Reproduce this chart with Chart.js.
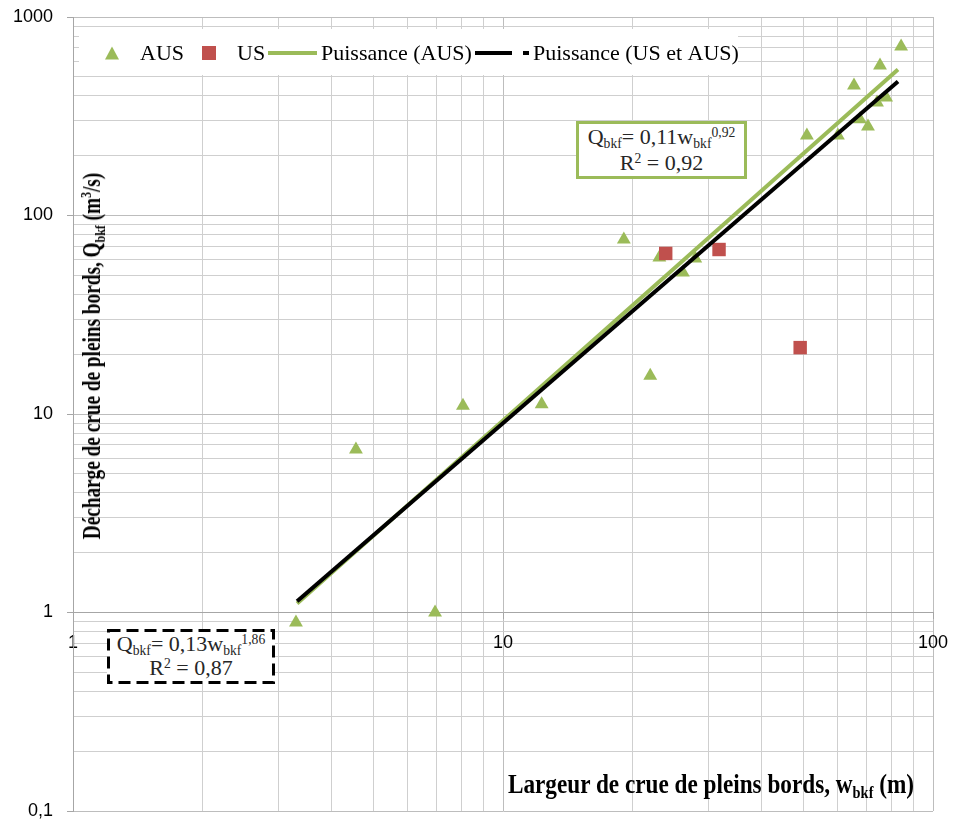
<!DOCTYPE html>
<html>
<head>
<meta charset="utf-8">
<script src="https://cdn.jsdelivr.net/npm/chart.js@4.4.1/dist/chart.umd.min.js"></script>
<style>
html,body{margin:0;padding:0;background:#fff;}
#wrap{position:relative;width:954px;height:824px;overflow:hidden;}
#c{position:absolute;left:0;top:0;}
.eq{position:absolute;background:#fff;font-family:"Liberation Serif",serif;font-size:22px;color:#262626;text-align:center;box-sizing:border-box;white-space:nowrap;}
.eq sub,.eq sup,.ttl sub,.ttl sup{font-size:62%;line-height:0;}
.eq sub,.ttl sub{vertical-align:-0.3em;}
.eq sup,.ttl sup{vertical-align:0.55em;}
#eq1{left:576px;top:121px;width:171px;height:58px;border:3px solid #9BBB59;line-height:26px;}
#eq2{left:107px;top:629px;width:168px;height:55px;line-height:24px;}
#eq2 svg{position:absolute;left:0;top:0;}
.ttl{position:absolute;font-family:"Liberation Serif",serif;font-weight:bold;color:#000;white-space:nowrap;}
#ytitle{left:92px;top:356px;font-size:25px;transform:translate(-50%,-50%) rotate(-90deg) scaleX(0.77);}
#xtitle{left:711px;top:784px;font-size:27px;transform:translate(-50%,-50%) scaleX(0.86);}
</style>
</head>
<body>
<div id="wrap">
  <canvas id="c" width="954" height="824"></canvas>
  <div class="ttl" id="ytitle">Décharge de crue de pleins bords, Q<sub>bkf</sub> (m<sup>3</sup>/s)</div>
  <div class="ttl" id="xtitle">Largeur de crue de pleins bords, w<sub>bkf</sub> (m)</div>
  <div class="eq" id="eq1">Q<sub>bkf</sub>= 0,11w<sub>bkf</sub><sup>0,92</sup><br>R<sup>2</sup> = 0,92</div>
  <div class="eq" id="eq2"><svg width="168" height="55"><rect x="1.5" y="1.5" width="165" height="52" fill="none" stroke="#000" stroke-width="3" stroke-dasharray="12 6"/></svg><div style="position:relative;padding-top:3px;">Q<sub>bkf</sub>= 0,13w<sub>bkf</sub><sup>1,86</sup><br>R<sup>2</sup> = 0,87</div></div>
</div>
<script>
// ---- data ----
const seriesLabels = ['AUS', 'US', 'Puissance (AUS)', 'Puissance (US et AUS)'];
const ausWidth     = [3.30, 4.55, 6.95, 8.07, 12.3, 19.1, 22.0, 23.1, 26.2, 28.0, 50.9, 60.1, 65.5, 67.6, 70.6, 74.1, 75.3, 77.8, 84.3];
const ausDischarge = [0.89, 6.63, 1.00, 11.0, 11.2, 75.7, 15.6, 61.4, 51.6, 60.7, 253, 253, 452, 305, 281, 371, 570, 393, 710];
const usWidth      = [23.9, 31.8, 49.1];
const usDischarge  = [64.4, 67.4, 21.6];
const fitAusWidth     = [3.32, 82.9];
const fitAusDischarge = [1.11, 544];
const fitAllWidth     = [3.32, 82.9];
const fitAllDischarge = [1.14, 473];
const xMajorTicks = [1, 10, 100];
const xTickLabels = ['1', '10', '100'];
const yMajorTicks = [0.1, 1, 10, 100, 1000];
const yTickLabels = ['0,1', '1', '10', '100', '1000'];

const GREEN = '#9BBB59', RED = '#C0504D';

function pts(xs, ys) { return xs.map((x, i) => ({ x: x, y: ys[i] })); }
function logTicks(majors) {
  const out = [];
  for (let i = 0; i < majors.length; i++) {
    out.push({ value: majors[i], major: true });
    if (i < majors.length - 1) {
      for (let m = 2; m <= 9; m++) out.push({ value: +(m * majors[i]).toPrecision(6), major: false });
    }
  }
  return out;
}
function labelFor(majors, labels, v) {
  for (let i = 0; i < majors.length; i++) if (Math.abs(v - majors[i]) < majors[i] * 1e-6) return labels[i];
  return '';
}

// legend drawn inside the plot area (layout relative to chart area)
const legendLayout = {
  box: [6, 12, 659, 46], cy: 36,
  items: [
    { kind: 'tri', x: 39, tx: 67 },
    { kind: 'sq', x: 136, tx: 164 },
    { kind: 'line', x: 195, x2: 244, tx: 248 },
    { kind: 'dash', x: 402, x2: 456, tx: 460 }
  ]
};
const insideLegend = {
  id: 'insideLegend',
  beforeDatasetsDraw(chart) {
    const ctx = chart.ctx, L = chart.chartArea.left, T = chart.chartArea.top;
    const b = legendLayout.box, cy = T + legendLayout.cy;
    ctx.save();
    ctx.fillStyle = '#fff';
    ctx.fillRect(L + b[0], T + b[1], b[2], b[3]);
    ctx.font = '22px "Liberation Serif"';
    ctx.textBaseline = 'alphabetic';
    legendLayout.items.forEach((it, i) => {
      const ds = chart.data.datasets[i];
      const x = L + it.x;
      if (it.kind === 'tri') {
        ctx.fillStyle = ds.backgroundColor;
        ctx.beginPath();
        ctx.moveTo(x, cy - 6.5); ctx.lineTo(x + 7, cy + 6.5); ctx.lineTo(x - 7, cy + 6.5);
        ctx.closePath(); ctx.fill();
      } else if (it.kind === 'sq') {
        ctx.fillStyle = ds.backgroundColor;
        ctx.fillRect(x - 7, cy - 7, 14, 14);
      } else {
        ctx.strokeStyle = ds.borderColor;
        ctx.lineWidth = 4;
        ctx.setLineDash(it.kind === 'dash' ? [37, 11] : []);
        ctx.beginPath(); ctx.moveTo(x, cy); ctx.lineTo(L + it.x2, cy); ctx.stroke();
        ctx.setLineDash([]);
      }
      ctx.fillStyle = '#000';
      ctx.fillText(ds.label, L + it.tx, cy + 7);
    });
    ctx.restore();
  }
};

const tickFont = { family: '"Liberation Sans", Arial, sans-serif', size: 18 };
const gridColor = (c) => (c.tick && c.tick.major) ? '#bdbdbd' : '#cfcfcf';
const tickMarkColor = (c) => (c.tick && c.tick.major) ? '#a6a6a6' : 'rgba(0,0,0,0)';

new Chart(document.getElementById('c'), {
  type: 'scatter',
  data: {
    datasets: [
      { label: seriesLabels[0], data: pts(ausWidth, ausDischarge), pointStyle: 'triangle', pointRadius: 8,
        backgroundColor: GREEN, borderColor: GREEN, borderWidth: 0, order: 3 },
      { label: seriesLabels[1], data: pts(usWidth, usDischarge), pointStyle: 'rect', pointRadius: 9.5,
        backgroundColor: RED, borderColor: RED, borderWidth: 0, order: 2 },
      { label: seriesLabels[2], data: pts(fitAusWidth, fitAusDischarge), showLine: true, pointRadius: 0,
        borderColor: GREEN, backgroundColor: GREEN, borderWidth: 4, order: 1 },
      { label: seriesLabels[3], data: pts(fitAllWidth, fitAllDischarge), showLine: true, pointRadius: 0,
        borderColor: '#000', backgroundColor: '#000', borderWidth: 4, order: 0 }
    ]
  },
  options: {
    responsive: false,
    animation: false,
    events: [],
    layout: { padding: { left: 0, right: 21, top: 17, bottom: 13 } },
    plugins: { legend: { display: false }, tooltip: { enabled: false } },
    scales: {
      x: {
        type: 'logarithmic', min: 1, max: 100,
        position: { y: 1 },
        afterBuildTicks: (s) => { s.ticks = logTicks(xMajorTicks); },
        afterFit: (s) => { s.paddingLeft = 0; s.paddingRight = 0; s.paddingTop = 0; s.paddingBottom = 0; },
        ticks: { autoSkip: false, maxRotation: 0, padding: 14, color: '#000', font: tickFont,
          callback: (v) => labelFor(xMajorTicks, xTickLabels, v) },
        grid: { color: gridColor, tickColor: tickMarkColor, tickLength: 6 },
        border: { display: true, color: '#a6a6a6' }
      },
      y: {
        type: 'logarithmic', min: 0.1, max: 1000,
        afterBuildTicks: (s) => { s.ticks = logTicks(yMajorTicks); },
        afterFit: (s) => { s.width = 73; s.paddingTop = 0; s.paddingBottom = 0; s.paddingLeft = 0; s.paddingRight = 0; },
        ticks: { autoSkip: false, padding: 14, color: '#000', font: tickFont,
          callback: (v) => labelFor(yMajorTicks, yTickLabels, v) },
        grid: { color: gridColor, tickColor: tickMarkColor, tickLength: 6 },
        border: { display: true, color: '#a6a6a6' }
      }
    }
  },
  plugins: [insideLegend]
});
</script>
</body>
</html>
